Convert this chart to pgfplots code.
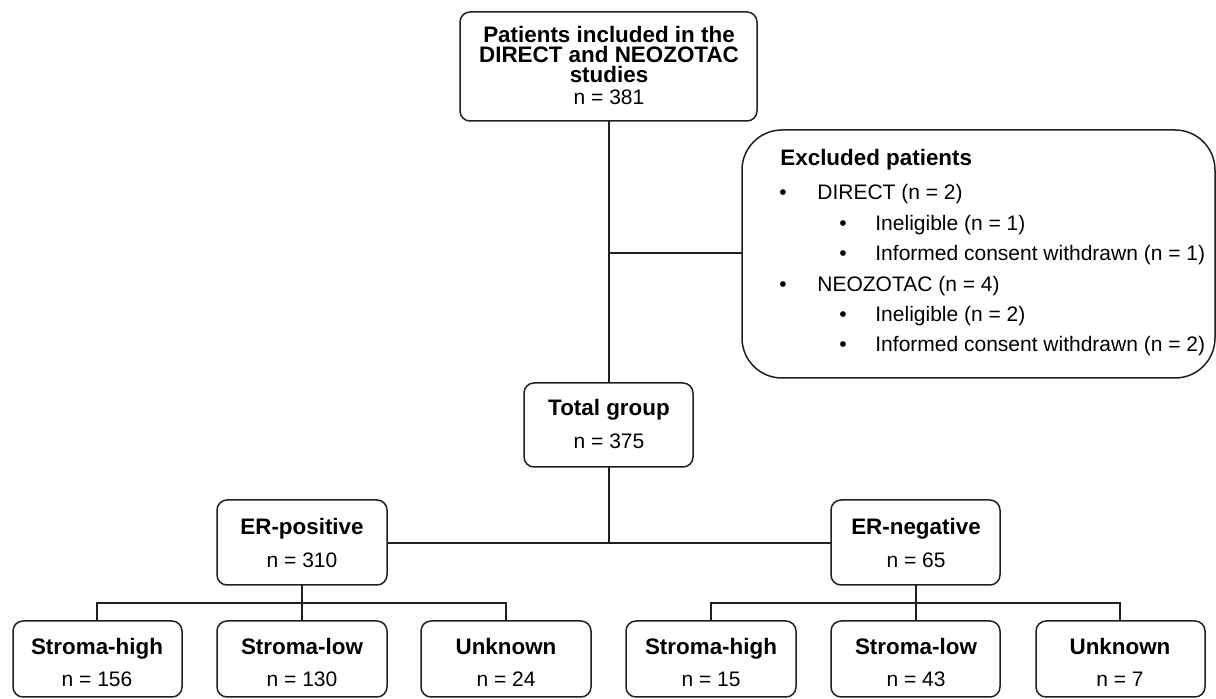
\documentclass[border=0pt]{standalone}
\usepackage{pgfplots}
\pgfplotsset{compat=1.18}
\usepackage{fontspec}
\setmainfont{Liberation Sans}
\definecolor{ink}{HTML}{231F20}
\newcommand{\B}{\fontsize{11.2}{13}\selectfont\bfseries}
\newcommand{\R}{\fontsize{10.5}{13}\selectfont}
\begin{document}
\begin{tikzpicture}
\begin{axis}[
  scale only axis, width=608pt, height=349.5pt,
  xmin=0, xmax=1216, ymin=0, ymax=699, y dir=reverse,
  hide axis, clip=false,
  every axis plot/.append style={ink, line width=0.75pt, mark=none, solid},
  every node/.append style={text=ink},
]
% invisible frame to fix bounding box
\addplot[draw=none] coordinates {(0,0) (1216,699)};
% boxes (start mid top edge so that all corners are rounded)
\addplot[rounded corners=5pt] coordinates {(608,12) (757,12) (757,121) (460,121) (460,12) (608,12)};
\addplot[rounded corners=5pt] coordinates {(608,383) (693,383) (693,467) (524,467) (524,383) (608,383)};
\addplot[rounded corners=5pt] coordinates {(302,500) (387,500) (387,585) (217,585) (217,500) (302,500)};
\addplot[rounded corners=5pt] coordinates {(916,500) (1000,500) (1000,585) (831,585) (831,500) (916,500)};
\addplot[rounded corners=20pt] coordinates {(978,130) (1215,130) (1215,378) (742,378) (742,130) (978,130)};
% bottom boxes
\addplot[rounded corners=5pt] coordinates {(97,621) (182,621) (182,697) (13,697) (13,621) (97,621)};
\addplot[rounded corners=5pt] coordinates {(302,621) (387,621) (387,697) (217,697) (217,621) (302,621)};
\addplot[rounded corners=5pt] coordinates {(506,621) (591,621) (591,697) (421,697) (421,621) (506,621)};
\addplot[rounded corners=5pt] coordinates {(711,621) (796,621) (796,697) (626,697) (626,621) (711,621)};
\addplot[rounded corners=5pt] coordinates {(916,621) (1000,621) (1000,697) (831,697) (831,621) (916,621)};
\addplot[rounded corners=5pt] coordinates {(1120,621) (1205,621) (1205,697) (1036,697) (1036,621) (1120,621)};
% connectors
\addplot[] coordinates {(609,121) (609,383)};
\addplot[] coordinates {(609,253) (742,253)};
\addplot[] coordinates {(609,467) (609,543)};
\addplot[] coordinates {(387,543) (831,543)};
\addplot[] coordinates {(302,585) (302,621)};
\addplot[] coordinates {(97,621) (97,603) (506,603) (506,621)};
\addplot[] coordinates {(916,585) (916,621)};
\addplot[] coordinates {(711,621) (711,603) (1120,603) (1120,621)};
% texts
\node[font=\B, anchor=base, inner sep=0pt] at (axis cs:609,43) {Patients included in the};
\node[font=\B, anchor=base, inner sep=0pt] at (axis cs:609,63) {DIRECT and NEOZOTAC};
\node[font=\B, anchor=base, inner sep=0pt] at (axis cs:609,83) {studies};
\node[font=\R, anchor=base, inner sep=0pt] at (axis cs:609,105) {n = 381};
\node[font=\B, anchor=base, inner sep=0pt] at (axis cs:609,416) {Total group};
\node[font=\R, anchor=base, inner sep=0pt] at (axis cs:609,449) {n = 375};
\node[font=\B, anchor=base, inner sep=0pt] at (axis cs:302,535) {ER-positive};
\node[font=\R, anchor=base, inner sep=0pt] at (axis cs:302,568) {n = 310};
\node[font=\B, anchor=base, inner sep=0pt] at (axis cs:916,535) {ER-negative};
\node[font=\R, anchor=base, inner sep=0pt] at (axis cs:916,568) {n = 65};
\node[font=\B, anchor=base, inner sep=0pt] at (axis cs:97,655) {Stroma-high};
\node[font=\R, anchor=base, inner sep=0pt] at (axis cs:97,687) {n = 156};
\node[font=\B, anchor=base, inner sep=0pt] at (axis cs:302,655) {Stroma-low};
\node[font=\R, anchor=base, inner sep=0pt] at (axis cs:302,687) {n = 130};
\node[font=\B, anchor=base, inner sep=0pt] at (axis cs:506,655) {Unknown};
\node[font=\R, anchor=base, inner sep=0pt] at (axis cs:506,687) {n = 24};
\node[font=\B, anchor=base, inner sep=0pt] at (axis cs:711,655) {Stroma-high};
\node[font=\R, anchor=base, inner sep=0pt] at (axis cs:711,687) {n = 15};
\node[font=\B, anchor=base, inner sep=0pt] at (axis cs:916,655) {Stroma-low};
\node[font=\R, anchor=base, inner sep=0pt] at (axis cs:916,687) {n = 43};
\node[font=\B, anchor=base, inner sep=0pt] at (axis cs:1120,655) {Unknown};
\node[font=\R, anchor=base, inner sep=0pt] at (axis cs:1120,687) {n = 7};
% excluded
\node[font=\B, anchor=base west, inner sep=0pt] at (axis cs:780,166) {Excluded patients};
\node[font=\R, anchor=base, inner sep=0pt] at (axis cs:783,200) {•};
\node[font=\R, anchor=base west, inner sep=0pt] at (axis cs:817,200) {DIRECT (n = 2)};
\node[font=\R, anchor=base, inner sep=0pt] at (axis cs:843,230.5) {•};
\node[font=\R, anchor=base west, inner sep=0pt] at (axis cs:875,230.5) {Ineligible (n = 1)};
\node[font=\R, anchor=base, inner sep=0pt] at (axis cs:843,261) {•};
\node[font=\R, anchor=base west, inner sep=0pt] at (axis cs:875,261) {Informed consent withdrawn (n = 1)};
\node[font=\R, anchor=base, inner sep=0pt] at (axis cs:783,291.5) {•};
\node[font=\R, anchor=base west, inner sep=0pt] at (axis cs:817,291.5) {NEOZOTAC (n = 4)};
\node[font=\R, anchor=base, inner sep=0pt] at (axis cs:843,322) {•};
\node[font=\R, anchor=base west, inner sep=0pt] at (axis cs:875,322) {Ineligible (n = 2)};
\node[font=\R, anchor=base, inner sep=0pt] at (axis cs:843,352) {•};
\node[font=\R, anchor=base west, inner sep=0pt] at (axis cs:875,352) {Informed consent withdrawn (n = 2)};
\end{axis}
\end{tikzpicture}
\end{document}
